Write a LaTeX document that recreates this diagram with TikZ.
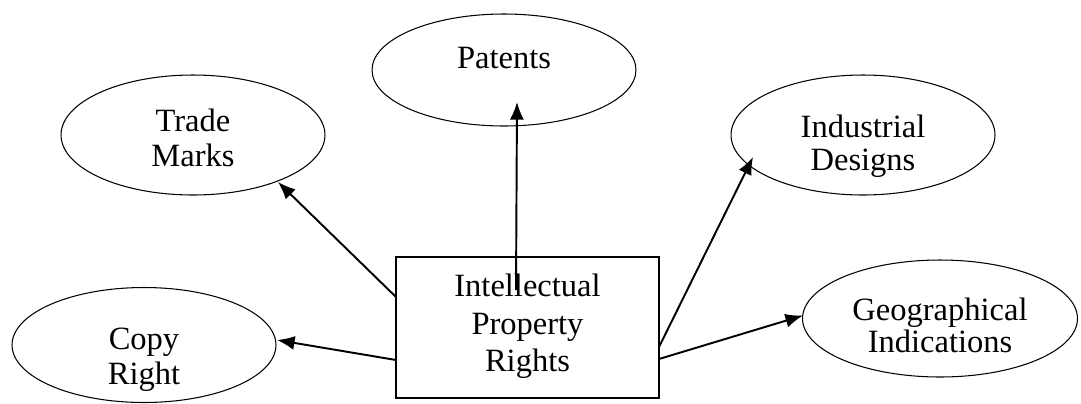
\documentclass[tikz,border=0pt]{standalone}
\usepackage{fontspec}
\setmainfont{Liberation Serif}
\usetikzlibrary{arrows.meta,shapes.geometric,calc,positioning}

\begin{document}
\begin{tikzpicture}[x=0.02cm,y=-0.02cm,font=\fontsize{18.5}{20}\selectfont,
  leaf/.style={draw,ellipse,line width=0.6pt,align=center,inner sep=0pt,minimum width=5.28cm,minimum height=2.3cm},
  hub/.style={draw,rectangle,line width=0.8pt,align=center,minimum width=5.26cm,minimum height=2.82cm},
  link/.style={line width=1.1pt,-{Latex[length=10pt,width=8pt]}}]
  \useasboundingbox (0,0) rectangle (1081,403);
  % centre box and the five rights around it
  \node[hub,font=\fontsize{18.5}{21.3}\selectfont,text height=50.2pt,text depth=0pt] (ipr) at (527.5,327.5) {Intellectual\\Property\\Rights};
  \node[leaf,minimum height=2.24cm,text height=13pt,text depth=14.4pt] (pat) at (504,70) {Patents};
  \node[leaf,minimum height=2.4cm,text height=37.6pt,text depth=2pt] (tm) at (193,135) {Trade\\Marks};
  \node[leaf,minimum height=2.4cm,font=\fontsize{18.5}{18.7}\selectfont,text height=39.9pt,text depth=0pt] (ind) at (863,135) {Industrial\\Designs};
  \node[leaf,text height=44.6pt,text depth=0pt] (cr) at (144,345) {Copy\\Right};
  \node[leaf,minimum width=5.5cm,minimum height=2.34cm,font=\fontsize{18.5}{16}\selectfont,text height=38.4pt,text depth=0pt] (geo) at (940,318.5) {Geographical\\Indications};
  % arrows out of the box
  \draw[link] ([shift={(-11.5,-37.5)}]ipr.center) -- ([shift={(13,32)}]pat.center);
  \draw[link] ([shift={(-131.5,-30.5)}]ipr.center) -- ([shift={(85,47)}]tm.center);
  \draw[link] ([shift={(-131.5,32.5)}]ipr.center) -- ([shift={(133,-5)}]cr.center);
  \draw[link] ([shift={(131.5,19.5)}]ipr.center) -- ([shift={(-110,22)}]ind.center);
  \draw[link] ([shift={(131.5,31.5)}]ipr.center) -- ([shift={(-137,-3)}]geo.center);
\end{tikzpicture}
\end{document}
